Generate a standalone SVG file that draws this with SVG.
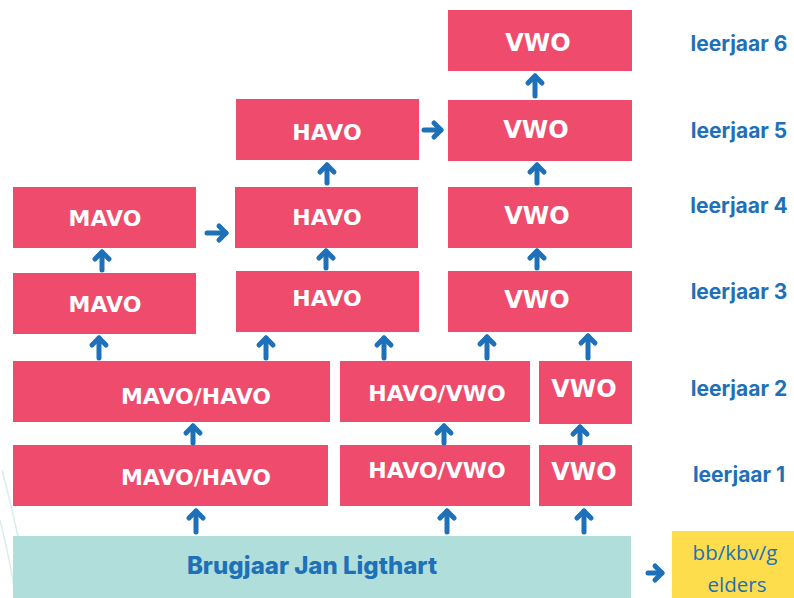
<svg xmlns="http://www.w3.org/2000/svg" width="794" height="598" viewBox="0 0 794 598">
<style>
.box{fill:#EF4C6D}
.t{font-family:"DejaVu Sans","Open Sans",sans-serif;font-weight:bold;font-size:22px;fill:#fff;text-anchor:middle;dominant-baseline:central}
.v{font-size:24px}
.lbl{font-family:Inter,"Liberation Sans",sans-serif;font-weight:bold;font-size:21px;fill:#1E70B8;text-anchor:middle;dominant-baseline:central}
.ar{stroke:#1E70B8;stroke-width:5;stroke-linecap:round;fill:none;marker-end:url(#head)}
.deco{stroke:#D6EEEC;stroke-width:1.5;fill:none}
</style>
<defs>
<marker id="head" markerUnits="userSpaceOnUse" viewBox="-12 -12 24 24" markerWidth="24" markerHeight="24" refX="0" refY="0" orient="auto">
<path d="M -7 -7 L 0 0 L -7 7" stroke="#1E70B8" stroke-width="5" stroke-linecap="round" stroke-linejoin="round" fill="none"/>
</marker>
</defs>
<rect width="794" height="598" fill="#fff"/>
<g id="decor">
<path class="deco" d="M 2 470 Q 18 530 30 598"/>
<path class="deco" d="M 0 520 Q 10 560 16 598"/>
</g>
<g id="vwo6"><rect class="box" x="448" y="10" width="184" height="61"/><text class="t v" x="538" y="43">VWO</text></g>
<g id="havo5"><rect class="box" x="236" y="99" width="183" height="61"/><text class="t" x="327" y="132">HAVO</text></g>
<g id="vwo5"><rect class="box" x="448" y="100" width="184" height="61"/><text class="t v" x="536" y="130">VWO</text></g>
<g id="mavo4"><rect class="box" x="13" y="187" width="183" height="61"/><text class="t" x="105" y="218">MAVO</text></g>
<g id="havo4"><rect class="box" x="235" y="187" width="183" height="61"/><text class="t" x="327" y="217">HAVO</text></g>
<g id="vwo4"><rect class="box" x="448" y="187" width="184" height="61"/><text class="t v" x="537" y="216">VWO</text></g>
<g id="mavo3"><rect class="box" x="13" y="273" width="183" height="61"/><text class="t" x="105" y="304">MAVO</text></g>
<g id="havo3"><rect class="box" x="236" y="271" width="183" height="61"/><text class="t" x="327" y="298">HAVO</text></g>
<g id="vwo3"><rect class="box" x="448" y="271" width="184" height="61"/><text class="t v" x="537" y="300">VWO</text></g>
<g id="mh2"><rect class="box" x="13" y="361" width="317" height="61"/><text class="t" x="196" y="396">MAVO/HAVO</text></g>
<g id="hv2"><rect class="box" x="340" y="361" width="190" height="61"/><text class="t" x="437" y="393">HAVO/VWO</text></g>
<g id="vwo2"><rect class="box" x="539" y="361" width="93" height="63"/><text class="t v" x="584" y="389">VWO</text></g>
<g id="mh1"><rect class="box" x="13" y="445" width="315" height="61"/><text class="t" x="196" y="477">MAVO/HAVO</text></g>
<g id="hv1"><rect class="box" x="340" y="445" width="190" height="61"/><text class="t" x="437" y="470">HAVO/VWO</text></g>
<g id="vwo1"><rect class="box" x="539" y="445" width="93" height="61"/><text class="t v" x="584" y="472">VWO</text></g>
<g id="brug"><rect x="13" y="536" width="618" height="62" fill="#B0DEDB"/><text x="312" y="565" font-family="Inter,'Open Sans',sans-serif" font-weight="800" font-size="24" fill="#1E70B8" text-anchor="middle" dominant-baseline="central">Brugjaar Jan Ligthart</text></g>
<g id="elders"><rect x="672" y="531" width="122" height="67" fill="#FDDD4B"/><text x="735" y="552" font-family="'Open Sans',sans-serif" font-size="20.5" fill="#1E70B8" text-anchor="middle" dominant-baseline="central">bb/kbv/g</text><text x="737" y="584" font-family="'Open Sans',sans-serif" font-size="20.5" fill="#1E70B8" text-anchor="middle" dominant-baseline="central">elders</text></g>
<g id="labels">
<text class="lbl" x="739" y="43">leerjaar 6</text>
<text class="lbl" x="739" y="130">leerjaar 5</text>
<text class="lbl" x="739" y="205">leerjaar 4</text>
<text class="lbl" x="739" y="291">leerjaar 3</text>
<text class="lbl" x="739" y="388">leerjaar 2</text>
<text class="lbl" x="739" y="474">leerjaar 1</text>
</g>
<g id="connectors">
<path class="ar" d="M 535 96 V 76"/>
<path class="ar" d="M 327 183 V 165"/>
<path class="ar" d="M 537 183 V 165"/>
<path class="ar" d="M 102 270 V 252"/>
<path class="ar" d="M 326 268 V 251"/>
<path class="ar" d="M 537 268 V 251"/>
<path class="ar" d="M 99 358 V 338"/>
<path class="ar" d="M 266 358 V 338"/>
<path class="ar" d="M 384 358 V 338"/>
<path class="ar" d="M 487 358 V 337"/>
<path class="ar" d="M 588 358 V 336"/>
<path class="ar" d="M 193 443 V 426"/>
<path class="ar" d="M 444 443 V 426"/>
<path class="ar" d="M 580 443 V 427"/>
<path class="ar" d="M 196 532 V 511"/>
<path class="ar" d="M 447 532 V 511"/>
<path class="ar" d="M 584 532 V 511"/>
<path class="ar" d="M 424 130 H 441"/>
<path class="ar" d="M 207 233 H 226"/>
<path class="ar" d="M 648 573 H 662"/>
</g>
</svg>
